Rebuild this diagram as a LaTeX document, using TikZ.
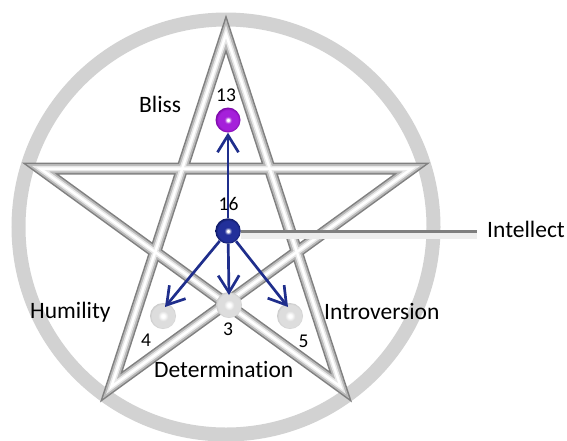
\documentclass[tikz,border=0pt]{standalone}
\usepackage{fontspec}
\setmainfont{Carlito}[Ligatures=NoCommon]
\usetikzlibrary{arrows.meta,calc}
\definecolor{ringgray}{HTML}{D2D2D2}
\definecolor{navyarrow}{HTML}{1F2E8C}
\definecolor{conngray}{HTML}{7F7F7F}
\definecolor{pedge}{HTML}{7A06A6}
\definecolor{pmid}{HTML}{A520DA}
\definecolor{bedge}{HTML}{0F1A66}
\definecolor{bmid}{HTML}{22309A}
\definecolor{gedge}{HTML}{CACACA}
\definecolor{gmid}{HTML}{DDDDDD}
\pgfdeclareradialshading{pball}{\pgfpoint{0bp}{0bp}}{color(0bp)=(white); color(2bp)=(white); color(7bp)=(pmid); color(20bp)=(pmid); color(25bp)=(pedge); color(50bp)=(pedge)}
\pgfdeclareradialshading{bball}{\pgfpoint{0bp}{0bp}}{color(0bp)=(white); color(2bp)=(white); color(7bp)=(bmid); color(20bp)=(bmid); color(25bp)=(bedge); color(50bp)=(bedge)}
\pgfdeclareradialshading{gball}{\pgfpoint{0bp}{0bp}}{color(0bp)=(white); color(3bp)=(white); color(10bp)=(gmid); color(22bp)=(gmid); color(25bp)=(gedge); color(50bp)=(gedge)}
\tikzset{
  ball/.style={circle, inner sep=0pt, minimum size=25pt, shade},
  label/.style={anchor=base west, inner sep=0pt, font=\fontsize{23.5}{28}\selectfont},
  num/.style={anchor=base, inner sep=0pt, font=\fontsize{19.5}{24}\selectfont},
  arr/.style={draw=navyarrow, line width=2.7pt, -{Straight Barb[length=17pt,width=21pt]}},
  conn/.style={draw=conngray, line width=3pt},
  starline/.style={line join=miter, miter limit=10}
}
\begin{document}
\begin{tikzpicture}[x=1pt,y=-1pt]
\useasboundingbox (0,0) rectangle (567,440);
% ring
\draw[ringgray, line width=14pt] (226,227) circle [radius=207.5pt];
% pentagram
\coordinate (A) at (226,34);
\coordinate (B) at (411.46,168.74);
\coordinate (C) at (340.62,386.76);
\coordinate (D) at (111.38,386.76);
\coordinate (E) at (40.54,168.74);
\draw[starline, line width=12pt, color={rgb,255:red,128;green,128;blue,128}] (A) -- (C) -- (E) -- (B) -- (D) -- cycle;
\draw[starline, line width=9pt, color={rgb,255:red,185;green,185;blue,185}] (A) -- (C) -- (E) -- (B) -- (D) -- cycle;
\draw[starline, line width=5.5pt, color={rgb,255:red,232;green,232;blue,232}] (A) -- (C) -- (E) -- (B) -- (D) -- cycle;
\draw[starline, line width=2.5pt, white] (A) -- (C) -- (E) -- (B) -- (D) -- cycle;
% balls
\node[ball, shading=pball, minimum size=25pt] (b13) at (228,120) {};
\node[ball, shading=bball, minimum size=25.5pt] (b16) at (228,231) {};
\node[ball, shading=gball, minimum size=26pt] (b4) at (163,316) {};
\node[ball, shading=gball, minimum size=26pt] (b3) at (229,305) {};
\node[ball, shading=gball, minimum size=26pt] (b5) at (290,316) {};
% connector to Intellect
\coordinate (iend) at (477,231);
\draw[line width=6pt, gray!14] ($(b16.east)+(0,5)$) -- ($(iend)+(0,5)$);
\draw[conn] (b16.east) -- (iend);
\node[label] (intellect) at (487,237) {Intellect};
% arrows
\draw[arr] (b16) -- (b13.south);
\draw[arr] (b16) -- ($(b3.center)+(0,-10)$);
\draw[arr] (b16) -- ($(b4.center)+(2,-9)$);
\draw[arr] (b16) -- ($(b5.center)+(-2,-9)$);
% numbers
\node[num] (n13) at (226,101) {13};
\node[num] (n16) at (228.5,210) {16};
\node[num] (n3) at (228,335) {3};
\node[num] (n4) at (146,346) {4};
\node[num] (n5) at (303.5,347) {5};
% labels
\node[label] (bliss) at (139,112) {Bliss};
\node[label] (humility) at (30,318) {Humility};
\node[label] (introversion) at (324,319) {Introversion};
\node[label] (determination) at (154,377) {Determination};
\end{tikzpicture}
\end{document}
